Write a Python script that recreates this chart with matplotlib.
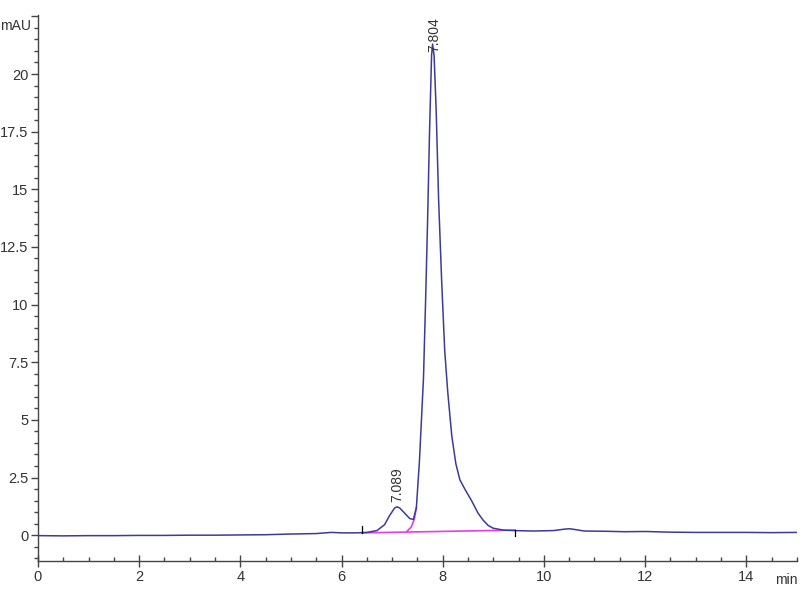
import matplotlib
matplotlib.use("Agg")
import matplotlib.pyplot as plt
from matplotlib.ticker import MultipleLocator, FuncFormatter

# Chromatogram signal (time in min, signal in mAU)
time_min = [0.0, 0.5, 1.0, 1.5, 2.0, 2.5, 3.0, 3.5, 4.0, 4.5, 5.0, 5.5, 5.8, 6.0,
            6.3, 6.5, 6.7, 6.85, 6.95, 7.05, 7.1, 7.15, 7.25, 7.35, 7.42, 7.48,
            7.54, 7.58, 7.62, 7.66, 7.70, 7.74, 7.78, 7.80, 7.83, 7.87, 7.92,
            7.98, 8.04, 8.10, 8.18, 8.26, 8.34, 8.45, 8.57, 8.70, 8.80, 8.90,
            9.0, 9.2, 9.4, 9.8, 10.2, 10.4, 10.5, 10.6, 10.8, 11.2, 11.6, 12.0,
            12.5, 13.0, 13.5, 14.0, 14.5, 15.0]
signal_mau = [-0.02, -0.03, -0.02, -0.02, -0.01, -0.01, 0.0, 0.0, 0.01, 0.02,
              0.05, 0.07, 0.12, 0.10, 0.10, 0.12, 0.20, 0.45, 0.85, 1.18, 1.23,
              1.18, 0.95, 0.72, 0.68, 1.2, 3.2, 5.0, 6.8, 10.0, 13.5, 17.5,
              20.8, 21.3, 20.8, 18.5, 14.5, 11.0, 8.0, 6.2, 4.3, 3.1, 2.4, 1.95,
              1.5, 0.95, 0.65, 0.42, 0.30, 0.22, 0.20, 0.18, 0.20, 0.26, 0.28,
              0.25, 0.18, 0.17, 0.15, 0.16, 0.13, 0.12, 0.12, 0.12, 0.11, 0.12]

# Integration baseline (magenta)
baseline_t = [6.40, 9.43]
baseline_v = [0.10, 0.22]
# Peak split / skim segment (magenta)
split_t = [7.29, 7.38, 7.44, 7.48]
split_v = [0.16, 0.36, 0.70, 1.2]

# Integration event markers
event_t = [6.40, 9.43]

# Peak labels
peak_rt = [7.089, 7.804]
peak_label_y = [1.43, 20.95]
peak_labels = ["7.089", "7.804"]

FAM = ['Liberation Sans Narrow', 'Liberation Sans', 'DejaVu Sans']
plt.rcParams['font.family'] = FAM

fig = plt.figure(figsize=(8, 6), dpi=100)
ax = fig.add_axes([0.0475, 0.065, 0.9485, 0.91])

line_col = '#3b3b98'
mag_col = '#e63ee0'

ax.plot(baseline_t, baseline_v, color=mag_col, lw=1.2, zorder=2)
ax.plot(split_t, split_v, color=mag_col, lw=1.2, zorder=2)
ax.plot(time_min, signal_mau, color=line_col, lw=1.1, zorder=3)

# event markers
ax.plot([event_t[0], event_t[0]], [baseline_v[0], baseline_v[0] + 0.3], color='black', lw=0.9, zorder=4)
ax.plot([event_t[1], event_t[1]], [baseline_v[1] - 0.25, baseline_v[1]], color='black', lw=0.9, zorder=4)

for x, y, s in zip(peak_rt, peak_label_y, peak_labels):
    ax.text(x + 0.02, y, s, rotation=90, ha='center', va='bottom', fontsize=10,
            color='#333333', family=FAM)

ax.set_xlim(0, 15)
ax.set_ylim(-1.12, 22.56)

ax.xaxis.set_major_locator(MultipleLocator(2))
ax.xaxis.set_minor_locator(MultipleLocator(0.5))
ax.yaxis.set_major_locator(MultipleLocator(2.5))
ax.yaxis.set_minor_locator(MultipleLocator(0.5))

ax.yaxis.set_major_formatter(FuncFormatter(lambda v, p: '' if v > 21 else ('%g' % v)))

for s in ['top', 'right']:
    ax.spines[s].set_visible(False)
for s in ['left', 'bottom']:
    ax.spines[s].set_color('#444444')
    ax.spines[s].set_linewidth(1.0)

ax.tick_params(axis='x', which='major', direction='inout', length=9, width=1.0,
               colors='#444444', labelsize=10.5, pad=2, labelcolor='#333333')
ax.tick_params(axis='x', which='minor', direction='in', length=3, width=1.0, colors='#444444')
ax.tick_params(axis='y', which='major', direction='out', length=5, width=1.0,
               colors='#444444', labelsize=10.5, pad=2, labelcolor='#333333')
ax.tick_params(axis='y', which='minor', direction='out', length=3, width=1.0, colors='#444444')

for lab in ax.get_xticklabels() + ax.get_yticklabels():
    lab.set_family(FAM)

ax.text(-0.13, 22.1, 'mAU', ha='right', va='center', fontsize=10, color='#333333', family=FAM)
ax.text(14.80, -1.95, 'min', ha='center', va='center', fontsize=10, color='#333333', family=FAM)

fig.savefig('out.png', dpi=100)
